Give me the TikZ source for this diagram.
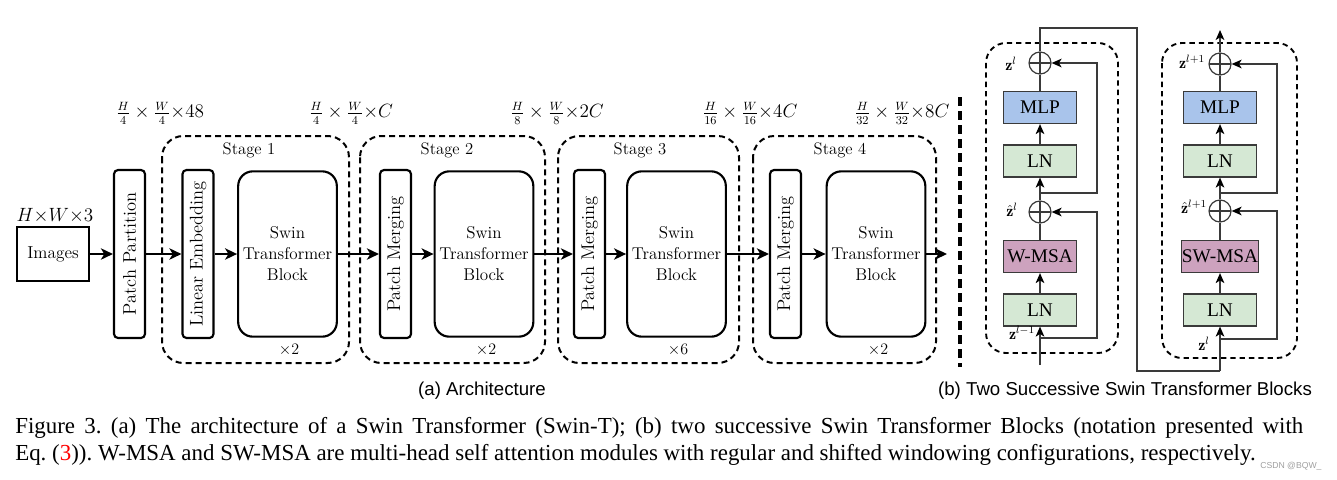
\documentclass[tikz,border=0pt]{standalone}
\usepackage{fontspec}
\usepackage{graphicx}
\usetikzlibrary{arrows.meta,calc}
\newfontfamily\tnr{Liberation Serif}
\newfontfamily\arl{Liberation Sans}
\definecolor{lngreen}{HTML}{D5E8D4}
\definecolor{mlpblue}{HTML}{A9C4EB}
\definecolor{msapurple}{HTML}{CDA2BE}
\definecolor{linegray}{HTML}{3A3A3A}
\begin{document}
\begin{tikzpicture}[x=0.75pt,y=-0.75pt,
  lm/.style={font=\fontsize{12.5}{15.75}\selectfont},
  imgbox/.style={draw, line width=1.6pt, minimum width=54pt, minimum height=40.5pt, inner sep=0pt, font=\fontsize{13}{15}\selectfont},
  thinbox/.style={draw, line width=1.6pt, rounded corners=3pt, minimum width=23.25pt, minimum height=126pt, inner sep=0pt, font=\fontsize{13.8}{15}\selectfont},
  stb/.style={draw, line width=1.6pt, rounded corners=11pt, minimum width=74pt, minimum height=124pt, inner sep=0pt, align=center, font=\fontsize{12.8}{15.75}\selectfont},
  stage/.style={draw, line width=1.5pt, dash pattern=on 4.5pt off 3pt, rounded corners=16pt},
  bigarrow/.style={line width=1.6pt, -{Stealth[length=9pt,width=8.5pt,inset=2.5pt]}},
  sep/.style={line width=2.4pt, dash pattern=on 6.5pt off 4pt},
  rbox/.style={draw=linegray, line width=0.9pt, minimum width=54.75pt, minimum height=24pt, inner sep=0pt, font=\tnr\fontsize{14.5}{16}\selectfont},
  ln/.style={rbox, fill=lngreen},
  mlp/.style={rbox, fill=mlpblue},
  msa/.style={rbox, fill=msapurple},
  addc/.style={circle, draw=linegray, line width=0.9pt, minimum size=16.5pt, inner sep=0pt,
    path picture={\draw[linegray, line width=0.9pt] (path picture bounding box.north) -- (path picture bounding box.south) (path picture bounding box.west) -- (path picture bounding box.east);}},
  thinline/.style={draw=linegray, line width=1.1pt},
  thinarrow/.style={thinline, -{Stealth[length=7.5pt,width=6.5pt,inset=2pt,color=black]}},
  rdash/.style={draw, line width=1.4pt, dash pattern=on 4pt off 3pt, rounded corners=15pt},
  zlab/.style={font=\fontsize{12}{14}\selectfont, inner sep=0pt},
  dimlab/.style={font=\fontsize{13.4}{15}\selectfont, inner sep=1pt},
  captext/.style={anchor=base west, inner sep=0pt, font=\tnr\fontsize{17.2}{19}\selectfont\frenchspacing},
]
\useasboundingbox (0,0) rectangle (1337,479);

% ---------- (a) Architecture ----------
\draw[stage] (162,136) rectangle (349,363);
\draw[stage] (360,136) rectangle (545,363);
\draw[stage] (558,136) rectangle (739,363);
\draw[stage] (753,136) rectangle (936,363);

\node[lm] (s1) at (249,150) {Stage 1};
\node[lm] (s2) at (447,150) {Stage 2};
\node[lm] (s3) at (640,150) {Stage 3};
\node[lm] (s4) at (840,150) {Stage 4};

\node[imgbox] (img) at (53,254) {Images};
\node[font=\fontsize{14.5}{16}\selectfont] (imglab) at (55,216) {$H{\times}W{\times}3$};

\node[thinbox] (pp) at (129.5,254) {\rotatebox{90}{Patch Partition}};
\node[thinbox] (le) at (198,254) {\rotatebox{90}{Linear Embedding}};
\node[stb] (b1) at (287.5,254) {Swin\\Transformer\\Block};
\node[thinbox] (pm2) at (395.5,254) {\rotatebox{90}{Patch Merging}};
\node[stb] (b2) at (484,254) {Swin\\Transformer\\Block};
\node[thinbox] (pm3) at (589.5,254) {\rotatebox{90}{Patch Merging}};
\node[stb] (b3) at (676.5,254) {Swin\\Transformer\\Block};
\node[thinbox] (pm4) at (785.5,254) {\rotatebox{90}{Patch Merging}};
\node[stb] (b4) at (876,254) {Swin\\Transformer\\Block};
\coordinate (out) at (947,254);

\node[lm] (x1) at (289,350) {${\times}2$};
\node[lm] (x2) at (486,350) {${\times}2$};
\node[lm] (x3) at (678,350) {${\times}6$};
\node[lm] (x4) at (878,350) {${\times}2$};

\node[dimlab] (d0) at (160,113) {$\frac{H}{4}\times\frac{W}{4}{\times}48$};
\node[dimlab] (d1) at (351,113) {$\frac{H}{4}\times\frac{W}{4}{\times}C$};
\node[dimlab] (d2) at (557,113) {$\frac{H}{8}\times\frac{W}{8}{\times}2C$};
\node[dimlab] (d3) at (750,113) {$\frac{H}{16}\times\frac{W}{16}{\times}4C$};
\node[dimlab] (d4) at (902,113) {$\frac{H}{32}\times\frac{W}{32}{\times}8C$};

\draw[bigarrow] (img) -- (pp);
\draw[bigarrow] (pp) -- (le);
\draw[bigarrow] (le) -- (b1);
\draw[bigarrow] (b1) -- (pm2);
\draw[bigarrow] (pm2) -- (b2);
\draw[bigarrow] (b2) -- (pm3);
\draw[bigarrow] (pm3) -- (b3);
\draw[bigarrow] (b3) -- (pm4);
\draw[bigarrow] (pm4) -- (b4);
\draw[bigarrow] (b4) -- (out);

% separator
\coordinate (sept) at (960,97);
\coordinate (sepb) at (960,367);
\draw[sep] (sept) -- (sepb);

% ---------- (b) two blocks ----------
\draw[rdash] (986,43) rectangle (1118,353);
\draw[rdash] (1162,43) rectangle (1297,358);

% block 1
\node[ln]  (ln1a) at (1040,310) {LN};
\node[msa] (msa1) at (1040,256.5) {W-MSA};
\node[addc] (c1a) at (1040,212) {};
\node[ln]  (ln1b) at (1040,161) {LN};
\node[mlp] (mlp1) at (1040,107.5) {MLP};
\node[addc] (c1b) at (1040,63) {};

% block 2
\node[ln]  (ln2a) at (1220,310) {LN};
\node[msa] (msa2) at (1220,256.5) {SW-MSA};
\node[addc] (c2a) at (1220,211) {};
\node[ln]  (ln2b) at (1220,161) {LN};
\node[mlp] (mlp2) at (1220,107.5) {MLP};
\node[addc] (c2b) at (1220,64) {};

\coordinate (in1) at (1040,365);
\coordinate (r1a) at (1040,338);
\coordinate (r1b) at (1040,193);
\coordinate (res1) at (1097,0);
\coordinate (top1) at (1040,28);
\coordinate (j1) at (1137,28);
\coordinate (j2) at (1137,371);
\coordinate (in2) at (1220,371);
\coordinate (r2a) at (1220,339);
\coordinate (r2b) at (1220,193);
\coordinate (res2) at (1277,0);
\coordinate (top2) at (1220,30);

\draw[thinarrow] (in1) -- (ln1a);
\draw[thinarrow] (ln1a) -- (msa1);
\draw[thinline] (msa1) -- (c1a);
\draw[thinarrow] (c1a) -- (ln1b);
\draw[thinarrow] (ln1b) -- (mlp1);
\draw[thinline] (mlp1) -- (c1b);
\draw[thinarrow] (r1a) -| (res1 |- c1a) -- (c1a);
\draw[thinarrow] (r1b) -| (res1 |- c1b) -- (c1b);
\draw[thinline] (c1b) -- (top1) -- (j1) -- (j2) -- (in2);

\draw[thinarrow] (in2) -- (ln2a);
\draw[thinarrow] (ln2a) -- (msa2);
\draw[thinline] (msa2) -- (c2a);
\draw[thinarrow] (c2a) -- (ln2b);
\draw[thinarrow] (ln2b) -- (mlp2);
\draw[thinline] (mlp2) -- (c2b);
\draw[thinarrow] (r2a) -| (res2 |- c2a) -- (c2a);
\draw[thinarrow] (r2b) -| (res2 |- c2b) -- (c2b);
\draw[thinarrow] (c2b) -- (top2);

\node[zlab] (zl1) at (1011,64) {$\mathbf{z}^l$};
\node[zlab] (zh1) at (1012,210) {$\hat{\mathbf{z}}^l$};
\node[zlab] (zi1) at (1022,333) {$\mathbf{z}^{l-1}$};
\node[zlab] (zl2) at (1192,62) {$\mathbf{z}^{l+1}$};
\node[zlab] (zh2) at (1194,207) {$\hat{\mathbf{z}}^{l+1}$};
\node[zlab] (zi2) at (1204,344) {$\mathbf{z}^l$};

% ---------- captions ----------
\node[anchor=base, font=\arl\fontsize{14}{16}\selectfont, inner sep=0pt] (capa) at (482,395) {(a) Architecture};
\node[anchor=base, font=\arl\fontsize{14}{16}\selectfont, inner sep=0pt] (capb) at (1125,395) {(b) Two Successive Swin Transformer Blocks};

\node[captext] (cap1) at (15,433)
  {\makebox[966pt][s]{Figure 3. (a) The architecture of a Swin Transformer (Swin-T); (b) two successive Swin Transformer Blocks (notation presented with}};
\node[captext] (cap2) at (15,460)
  {Eq. (\textcolor{red}{3})). W-MSA and SW-MSA are multi-head self attention modules with regular and shifted windowing configurations, respectively.};
\node[anchor=base west, inner sep=0pt, font=\arl\fontsize{6.5}{8}\selectfont, text=gray!75] (wm) at (1260,468) {CSDN @BQW\_};
\end{tikzpicture}
\end{document}
